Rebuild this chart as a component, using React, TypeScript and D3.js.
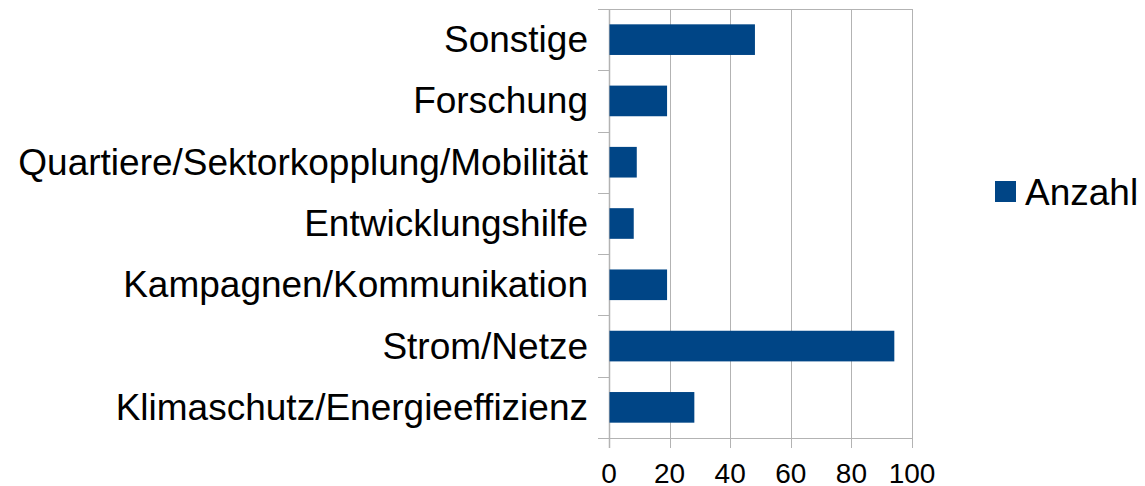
import React from "react";
import * as d3 from "d3";

const categories = [
  "Sonstige",
  "Forschung",
  "Quartiere/Sektorkopplung/Mobilität",
  "Entwicklungshilfe",
  "Kampagnen/Kommunikation",
  "Strom/Netze",
  "Klimaschutz/Energieeffizienz",
];
const values = [48, 19, 9, 8, 19, 94, 28];
const xTicks = [0, 20, 40, 60, 80, 100];
const seriesName = "Anzahl";

const W = 1145;
const H = 486;
const left = 609;
const right = 912;
const top = 9;
const bottom = 438;
const barColor = "#004586";
const gridColor = "#b3b3b3";
const font = "'Liberation Sans', Arial, sans-serif";

export default function App() {
  const x = d3.scaleLinear().domain([0, 100]).range([left, right]);
  const y = d3
    .scaleBand<string>()
    .domain(categories)
    .range([top, bottom])
    .paddingInner(0.5)
    .paddingOuter(0.25);
  const step = y.step();
  const boundaries = d3.range(categories.length + 1).map((i) => top + i * step);

  return (
    <svg
      width={W}
      height={H}
      style={{ position: "absolute", left: 0, top: 0, background: "#fff" }}
      fontFamily={font}
    >
      <rect width={W} height={H} fill="#fff" />
      {/* grid lines */}
      {xTicks.map((t) => (
        <line
          key={"g" + t}
          x1={Math.round(x(t)) + 0.5}
          x2={Math.round(x(t)) + 0.5}
          y1={top}
          y2={bottom + 10}
          stroke={gridColor}
          strokeWidth={1}
        />
      ))}
      {/* top and bottom border lines + category ticks */}
      {boundaries.map((b, i) => (
        <line
          key={"b" + i}
          x1={left - 11}
          x2={i === 0 || i === categories.length ? right : left}
          y1={Math.round(b) + 0.5}
          y2={Math.round(b) + 0.5}
          stroke={gridColor}
          strokeWidth={1}
        />
      ))}
      {/* axis line */}
      <line
        x1={left + 0.5}
        x2={left + 0.5}
        y1={top}
        y2={bottom + 10}
        stroke={gridColor}
        strokeWidth={1.5}
      />
      {/* bars */}
      {categories.map((c, i) => (
        <rect
          key={c}
          x={x(0) + 0.5}
          y={y(c)!}
          width={x(values[i]) - x(0)}
          height={y.bandwidth()}
          fill={barColor}
        />
      ))}
      {/* category labels */}
      {categories.map((c) => (
        <text
          key={"l" + c}
          x={588}
          y={y(c)! + y.bandwidth() / 2}
          textAnchor="end"
          dominantBaseline="central"
          fontSize={37}
          fill="#000"
        >
          {c}
        </text>
      ))}
      {/* x tick labels */}
      {xTicks.map((t) => (
        <text
          key={"t" + t}
          x={x(t)}
          y={483}
          textAnchor="middle"
          fontSize={28}
          fill="#000"
        >
          {t}
        </text>
      ))}
      {/* legend */}
      <rect x={995} y={181} width={21} height={21} fill={barColor} />
      <text x={1025} y={192} dominantBaseline="central" fontSize={37} fill="#000">
        {seriesName}
      </text>
    </svg>
  );
}
